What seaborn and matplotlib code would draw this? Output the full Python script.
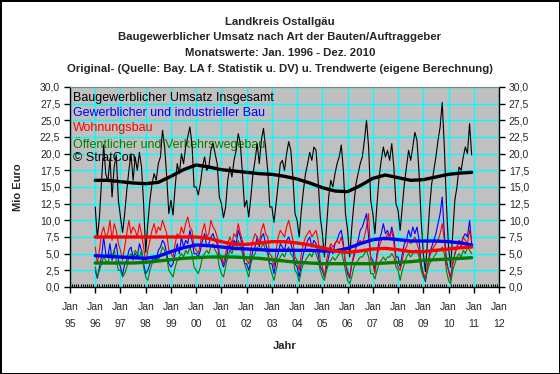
import numpy as np
import pandas as pd
import matplotlib
matplotlib.use("Agg")
import matplotlib.pyplot as plt
import seaborn as sns
from matplotlib.ticker import FixedLocator

# monthly values Jan 1996 - Dec 2010 (Mio Euro), one row per year
insgesamt = [
    12.0, 7.3, 10.5, 16.0, 21.3, 17.0, 15.8, 19.3, 13.5, 18.0, 19.8, 13.0,
    10.5, 8.2, 11.0, 14.5, 17.5, 20.0, 16.0, 19.5, 17.5, 20.2, 18.0, 12.5,
    5.2, 9.5, 13.0, 15.5, 17.0, 16.0, 18.5, 19.5, 23.5, 21.0, 16.5, 11.0,
    13.0, 10.8, 15.0, 18.5, 17.0, 20.0, 18.5, 21.0, 22.5, 24.0, 21.5, 15.0,
    15.0, 13.8, 15.5, 18.0, 19.5, 17.5, 18.0, 20.5, 21.6, 20.0, 18.5, 13.5,
    12.5, 10.4, 12.0, 16.0, 18.0, 16.5, 19.0, 20.5, 23.0, 21.5, 17.0, 12.0,
    13.0, 10.5, 13.5, 17.0, 19.0, 21.5, 18.5, 22.0, 23.8, 21.0, 17.5, 12.0,
    12.0, 9.7, 12.5, 15.5, 18.5, 19.0, 17.5, 20.0, 21.8, 20.5, 16.5, 11.0,
    10.0, 7.5, 11.5, 14.5, 17.0, 18.5, 20.2, 19.0, 21.0, 20.5, 16.0, 10.5,
    8.0, 4.5, 9.0, 13.5, 16.0, 15.0, 17.0, 18.5, 19.5, 21.3, 17.5, 11.0,
    8.5, 4.5, 9.0, 12.5, 15.5, 17.0, 18.5, 19.5, 22.0, 25.0, 21.0, 13.0,
    11.0, 8.0, 12.5, 16.5, 19.0, 21.0, 19.5, 20.5, 19.0, 21.5, 18.0, 12.5,
    11.5, 8.5, 12.0, 15.5, 18.0, 20.5, 19.0, 21.0, 23.2, 22.0, 17.0, 10.0,
    5.0, 2.3, 7.0, 12.0, 15.5, 17.5, 19.5, 22.0, 24.0, 27.7, 21.0, 12.5,
    6.0, 3.0, 8.0, 13.0, 15.0, 18.0, 17.5, 19.5, 21.0, 20.0, 24.5, 19.8,
]
gewerbe = [
    2.5, 1.3, 3.0, 4.5, 7.5, 5.0, 4.5, 6.5, 4.0, 5.5, 6.5, 4.0,
    3.0, 1.8, 3.5, 4.0, 5.5, 6.0, 4.5, 5.0, 4.5, 6.5, 5.5, 3.5,
    2.0, 2.5, 3.5, 4.0, 4.5, 4.0, 5.5, 6.0, 7.0, 6.5, 5.0, 3.5,
    3.0, 3.5, 5.0, 6.5, 5.0, 7.5, 6.0, 7.0, 6.5, 8.5, 7.0, 5.0,
    5.0, 4.5, 5.5, 7.0, 8.0, 6.0, 6.5, 7.5, 8.0, 7.0, 6.5, 4.5,
    4.0, 3.0, 4.0, 5.5, 6.5, 5.5, 7.0, 6.5, 8.5, 7.5, 6.0, 3.5,
    3.5, 2.5, 4.0, 5.5, 6.0, 7.5, 6.0, 7.5, 8.0, 6.5, 5.5, 3.5,
    3.5, 2.0, 4.0, 5.0, 6.5, 6.0, 5.5, 7.0, 7.5, 6.5, 5.5, 3.5,
    3.0, 1.5, 3.5, 5.0, 6.0, 7.0, 7.5, 6.0, 7.0, 6.5, 5.0, 3.0,
    2.5, 1.5, 3.0, 4.5, 6.0, 5.0, 6.5, 7.0, 8.0, 8.5, 6.5, 3.5,
    2.0, 1.3, 3.5, 4.5, 6.0, 7.0, 8.5, 9.0, 10.0, 11.0, 7.5, 4.5,
    4.0, 2.5, 5.0, 7.0, 8.0, 9.5, 8.0, 8.5, 7.5, 9.0, 7.5, 4.5,
    4.5, 3.0, 5.0, 6.5, 7.0, 8.5, 7.5, 9.0, 8.0, 9.0, 7.0, 3.5,
    2.0, 0.8, 3.0, 5.0, 6.0, 7.0, 8.0, 9.5, 11.0, 13.5, 8.0, 4.0,
    2.5, 1.5, 3.5, 5.0, 6.0, 7.0, 6.5, 7.5, 8.0, 7.5, 10.0, 6.5,
]
wohnung = [
    6.0, 3.5, 5.5, 8.0, 9.0, 7.5, 8.0, 10.0, 7.0, 9.5, 8.5, 6.5,
    5.5, 4.0, 6.0, 8.0, 10.0, 8.0, 9.0, 8.5, 7.5, 9.5, 8.0, 6.0,
    3.5, 5.5, 7.0, 8.5, 9.5, 8.0, 9.0, 8.5, 10.0, 9.0, 8.0, 5.5,
    5.0, 4.5, 6.5, 8.0, 7.5, 9.0, 8.0, 9.5, 10.5, 9.0, 8.5, 6.0,
    5.5, 5.0, 6.5, 8.5, 9.5, 7.5, 8.0, 10.0, 9.0, 8.5, 7.5, 5.0,
    4.5, 3.5, 5.0, 6.5, 7.5, 6.5, 8.0, 7.5, 9.5, 8.0, 7.0, 4.5,
    4.0, 3.5, 5.5, 7.0, 8.0, 7.5, 6.5, 8.5, 9.5, 8.0, 7.5, 5.0,
    4.5, 3.0, 5.5, 7.5, 8.5, 8.0, 7.5, 9.0, 10.0, 8.5, 7.0, 4.5,
    4.0, 2.5, 5.0, 6.5, 7.5, 8.0, 8.5, 7.5, 8.0, 8.5, 7.0, 4.0,
    3.0, 1.5, 4.0, 5.5, 6.5, 6.0, 6.5, 7.0, 6.5, 7.5, 6.0, 3.5,
    2.5, 1.5, 3.5, 5.0, 6.0, 6.5, 7.0, 6.5, 7.5, 9.0, 11.0, 4.0,
    3.5, 2.0, 4.5, 6.0, 7.0, 7.5, 7.0, 8.0, 7.5, 8.5, 6.5, 4.0,
    3.0, 2.5, 4.0, 5.5, 6.0, 7.0, 6.5, 7.0, 7.5, 6.5, 5.5, 3.0,
    2.0, 1.5, 3.0, 4.5, 5.5, 6.0, 6.5, 7.0, 8.0, 9.5, 7.0, 3.5,
    2.5, 1.0, 3.5, 5.0, 6.0, 7.0, 6.0, 7.5, 7.0, 6.5, 8.5, 7.0,
]
oeffentlich = [
    3.0, 1.5, 2.5, 3.5, 4.5, 4.0, 3.5, 5.0, 4.5, 5.5, 4.0, 2.5,
    2.5, 1.5, 2.0, 3.0, 4.5, 5.0, 4.0, 5.5, 5.0, 4.5, 5.5, 3.0,
    1.5, 1.0, 2.5, 3.5, 4.0, 4.5, 4.0, 5.0, 6.0, 5.5, 4.5, 2.5,
    2.0, 1.5, 3.0, 4.0, 4.5, 5.0, 4.5, 5.5, 5.0, 6.0, 5.0, 3.0,
    2.5, 2.0, 3.0, 4.5, 5.0, 5.5, 5.0, 6.0, 6.5, 5.5, 5.0, 3.0,
    2.0, 1.5, 3.0, 4.5, 5.5, 5.0, 6.0, 5.5, 7.0, 6.0, 5.0, 3.5,
    2.5, 1.5, 3.5, 4.5, 5.0, 6.0, 5.5, 6.0, 6.5, 5.5, 5.0, 3.0,
    2.0, 1.0, 2.5, 4.0, 4.5, 5.0, 4.5, 5.5, 6.0, 5.0, 4.5, 2.5,
    2.0, 0.8, 2.5, 3.5, 4.0, 4.5, 5.0, 4.5, 5.5, 5.0, 4.0, 2.5,
    1.5, 1.0, 2.5, 3.5, 4.0, 4.5, 4.0, 4.5, 5.0, 5.5, 4.0, 2.5,
    1.0, 0.5, 1.5, 3.0, 3.5, 4.0, 4.5, 4.5, 5.0, 5.5, 4.5, 2.0,
    2.0, 1.2, 2.5, 3.5, 4.0, 4.5, 4.0, 4.5, 4.5, 5.0, 4.5, 3.0,
    2.5, 1.0, 2.5, 3.5, 4.5, 5.0, 4.5, 5.0, 5.5, 5.5, 4.5, 2.5,
    1.5, 1.0, 2.5, 3.5, 4.0, 4.5, 5.0, 5.5, 5.5, 6.0, 5.0, 2.5,
    1.0, 0.5, 2.5, 3.5, 4.5, 5.0, 4.5, 5.5, 5.0, 6.0, 5.5, 5.0,
]

# trend values, read at Jan/Jul of each year plus Dec 2010
trend_months = [0, 6, 12, 18, 24, 30, 36, 42, 48, 54, 60, 66, 72, 78, 84, 90,
                96, 102, 108, 114, 120, 126, 132, 138, 144, 150, 156, 162, 168, 174, 179]
trend_insgesamt = [16.0, 16.0, 15.8, 15.6, 15.5, 15.7, 16.6, 17.6, 18.3, 18.0, 17.6,
                   17.4, 17.2, 17.0, 16.9, 16.6, 16.2, 15.6, 14.9, 14.4, 14.3, 15.2,
                   16.3, 16.8, 16.4, 16.0, 16.1, 16.5, 16.9, 17.1, 17.2]
trend_gewerbe = [4.7, 4.6, 4.5, 4.4, 4.3, 4.6, 5.3, 5.9, 6.3, 6.2, 6.0, 5.8, 5.7, 5.6,
                 5.5, 5.5, 5.5, 5.5, 5.4, 5.4, 5.8, 6.5, 7.1, 7.3, 7.1, 6.9, 6.9, 6.9,
                 6.8, 6.6, 6.3]
trend_wohnung = [7.5, 7.5, 7.5, 7.5, 7.5, 7.5, 7.5, 7.5, 7.5, 7.3, 6.8, 6.4, 6.4, 6.6,
                 6.8, 6.8, 6.6, 6.3, 5.9, 5.4, 5.2, 5.4, 5.7, 5.8, 5.6, 5.3, 5.3, 5.5,
                 5.7, 5.9, 6.0]
trend_oeffentlich = [3.6, 3.6, 3.6, 3.6, 3.7, 3.9, 4.1, 4.3, 4.4, 4.5, 4.5, 4.5, 4.4,
                     4.3, 4.1, 3.9, 3.7, 3.6, 3.5, 3.5, 3.5, 3.5, 3.5, 3.6, 3.7, 3.8,
                     4.0, 4.1, 4.2, 4.3, 4.4]

labels = ["Baugewerblicher Umsatz Insgesamt", "Gewerblicher und industrieller Bau",
          "Wohnungsbau", "Öffentlicher und Verkehrswegebau"]
colors = ["black", "#0000FF", "#FF0000", "#008000"]
year_labels = ["95", "96", "97", "98", "99", "00", "01", "02", "03", "04", "05",
               "06", "07", "08", "09", "10", "11", "12"]

raw = pd.DataFrame({"x": 1996 + np.arange(180) / 12, "Insgesamt": insgesamt,
                    "Gewerbe": gewerbe, "Wohnung": wohnung, "Oeffentlich": oeffentlich})
trend = pd.DataFrame({"x": 1996 + np.array(trend_months) / 12,
                      "Insgesamt": trend_insgesamt, "Gewerbe": trend_gewerbe,
                      "Wohnung": trend_wohnung, "Oeffentlich": trend_oeffentlich})
cols = ["Insgesamt", "Gewerbe", "Wohnung", "Oeffentlich"]

sns.set_style("white")
plt.rcParams["font.family"] = ["Liberation Sans", "DejaVu Sans"]

fig = plt.figure(figsize=(5.6, 3.74), dpi=100, facecolor="white",
                 edgecolor="black", linewidth=2)
ax = fig.add_axes([70 / 560, 87 / 374, 429 / 560, 200 / 374])
ax.set_facecolor("#C0C0C0")

for c, col in zip(cols, colors):
    sns.lineplot(data=raw, x="x", y=c, color=col, linewidth=0.8, ax=ax,
                 legend=False, zorder=3)
for c, col in zip(cols, colors):
    sns.lineplot(data=trend, x="x", y=c, color=col, linewidth=2.4, ax=ax,
                 legend=False, zorder=4)

ax.set_xlim(1995, 2012)
ax.set_ylim(0, 30)
yt = np.arange(0, 30.01, 2.5)
ax.set_yticks(yt)
ax.set_yticklabels([f"{v:.1f}".replace(".", ",") for v in yt], fontsize=7.5)
ax.set_xticks(np.arange(1995, 2013))
ax.set_xticklabels(["Jan\n" + y for y in year_labels], fontsize=7.5, linespacing=1.9)
ax.xaxis.set_minor_locator(FixedLocator(np.arange(1995, 2012, 1 / 12)))
ax.grid(True, which="major", color="#00FFFF", linewidth=1, zorder=1)
ax.set_axisbelow(True)
ax.tick_params(axis="x", which="major", direction="out", length=4, width=1,
               color="black", pad=7, bottom=True)
ax.tick_params(axis="x", which="minor", direction="in", length=2, width=0.8,
               color="black", bottom=True)
ax.tick_params(axis="y", direction="out", length=4, width=1, color="black", pad=3, left=True)
ax.set_xlabel("Jahr", fontsize=8, fontweight="bold", labelpad=8)
ax.set_ylabel("Mio Euro", fontsize=8, fontweight="bold", labelpad=12)
for s in ["left", "bottom", "right"]:
    ax.spines[s].set_color("black")
    ax.spines[s].set_linewidth(1)
ax.spines["top"].set_color("#808080")

ax2 = ax.twinx()
ax2.set_ylim(0, 30)
ax2.set_yticks(yt)
ax2.set_yticklabels([f"{v:.1f}".replace(".", ",") for v in yt], fontsize=7.5)
ax2.tick_params(axis="y", direction="out", length=4, width=1, color="black", pad=3, right=True)
for s in ax2.spines.values():
    s.set_visible(False)

for i, (lab, col) in enumerate(zip(labels + ["© StratCon"], colors + ["black"])):
    ax.text(0.007, 0.975 - i * 0.075, lab, transform=ax.transAxes, color=col,
            fontsize=9, va="top", ha="left", zorder=2)

titles = ["Landkreis Ostallgäu",
          "Baugewerblicher Umsatz nach Art der Bauten/Auftraggeber",
          "Monatswerte: Jan. 1996 - Dez. 2010",
          "Original- (Quelle: Bay. LA f. Statistik u. DV) u. Trendwerte (eigene Berechnung)"]
for i, t in enumerate(titles):
    fig.text(0.5, 1 - (22 + i * 15.5) / 374, t, ha="center", va="center",
             fontsize=8.2, fontweight="bold")

fig.savefig("out.png", dpi=100, facecolor="white", edgecolor=fig.get_edgecolor())
